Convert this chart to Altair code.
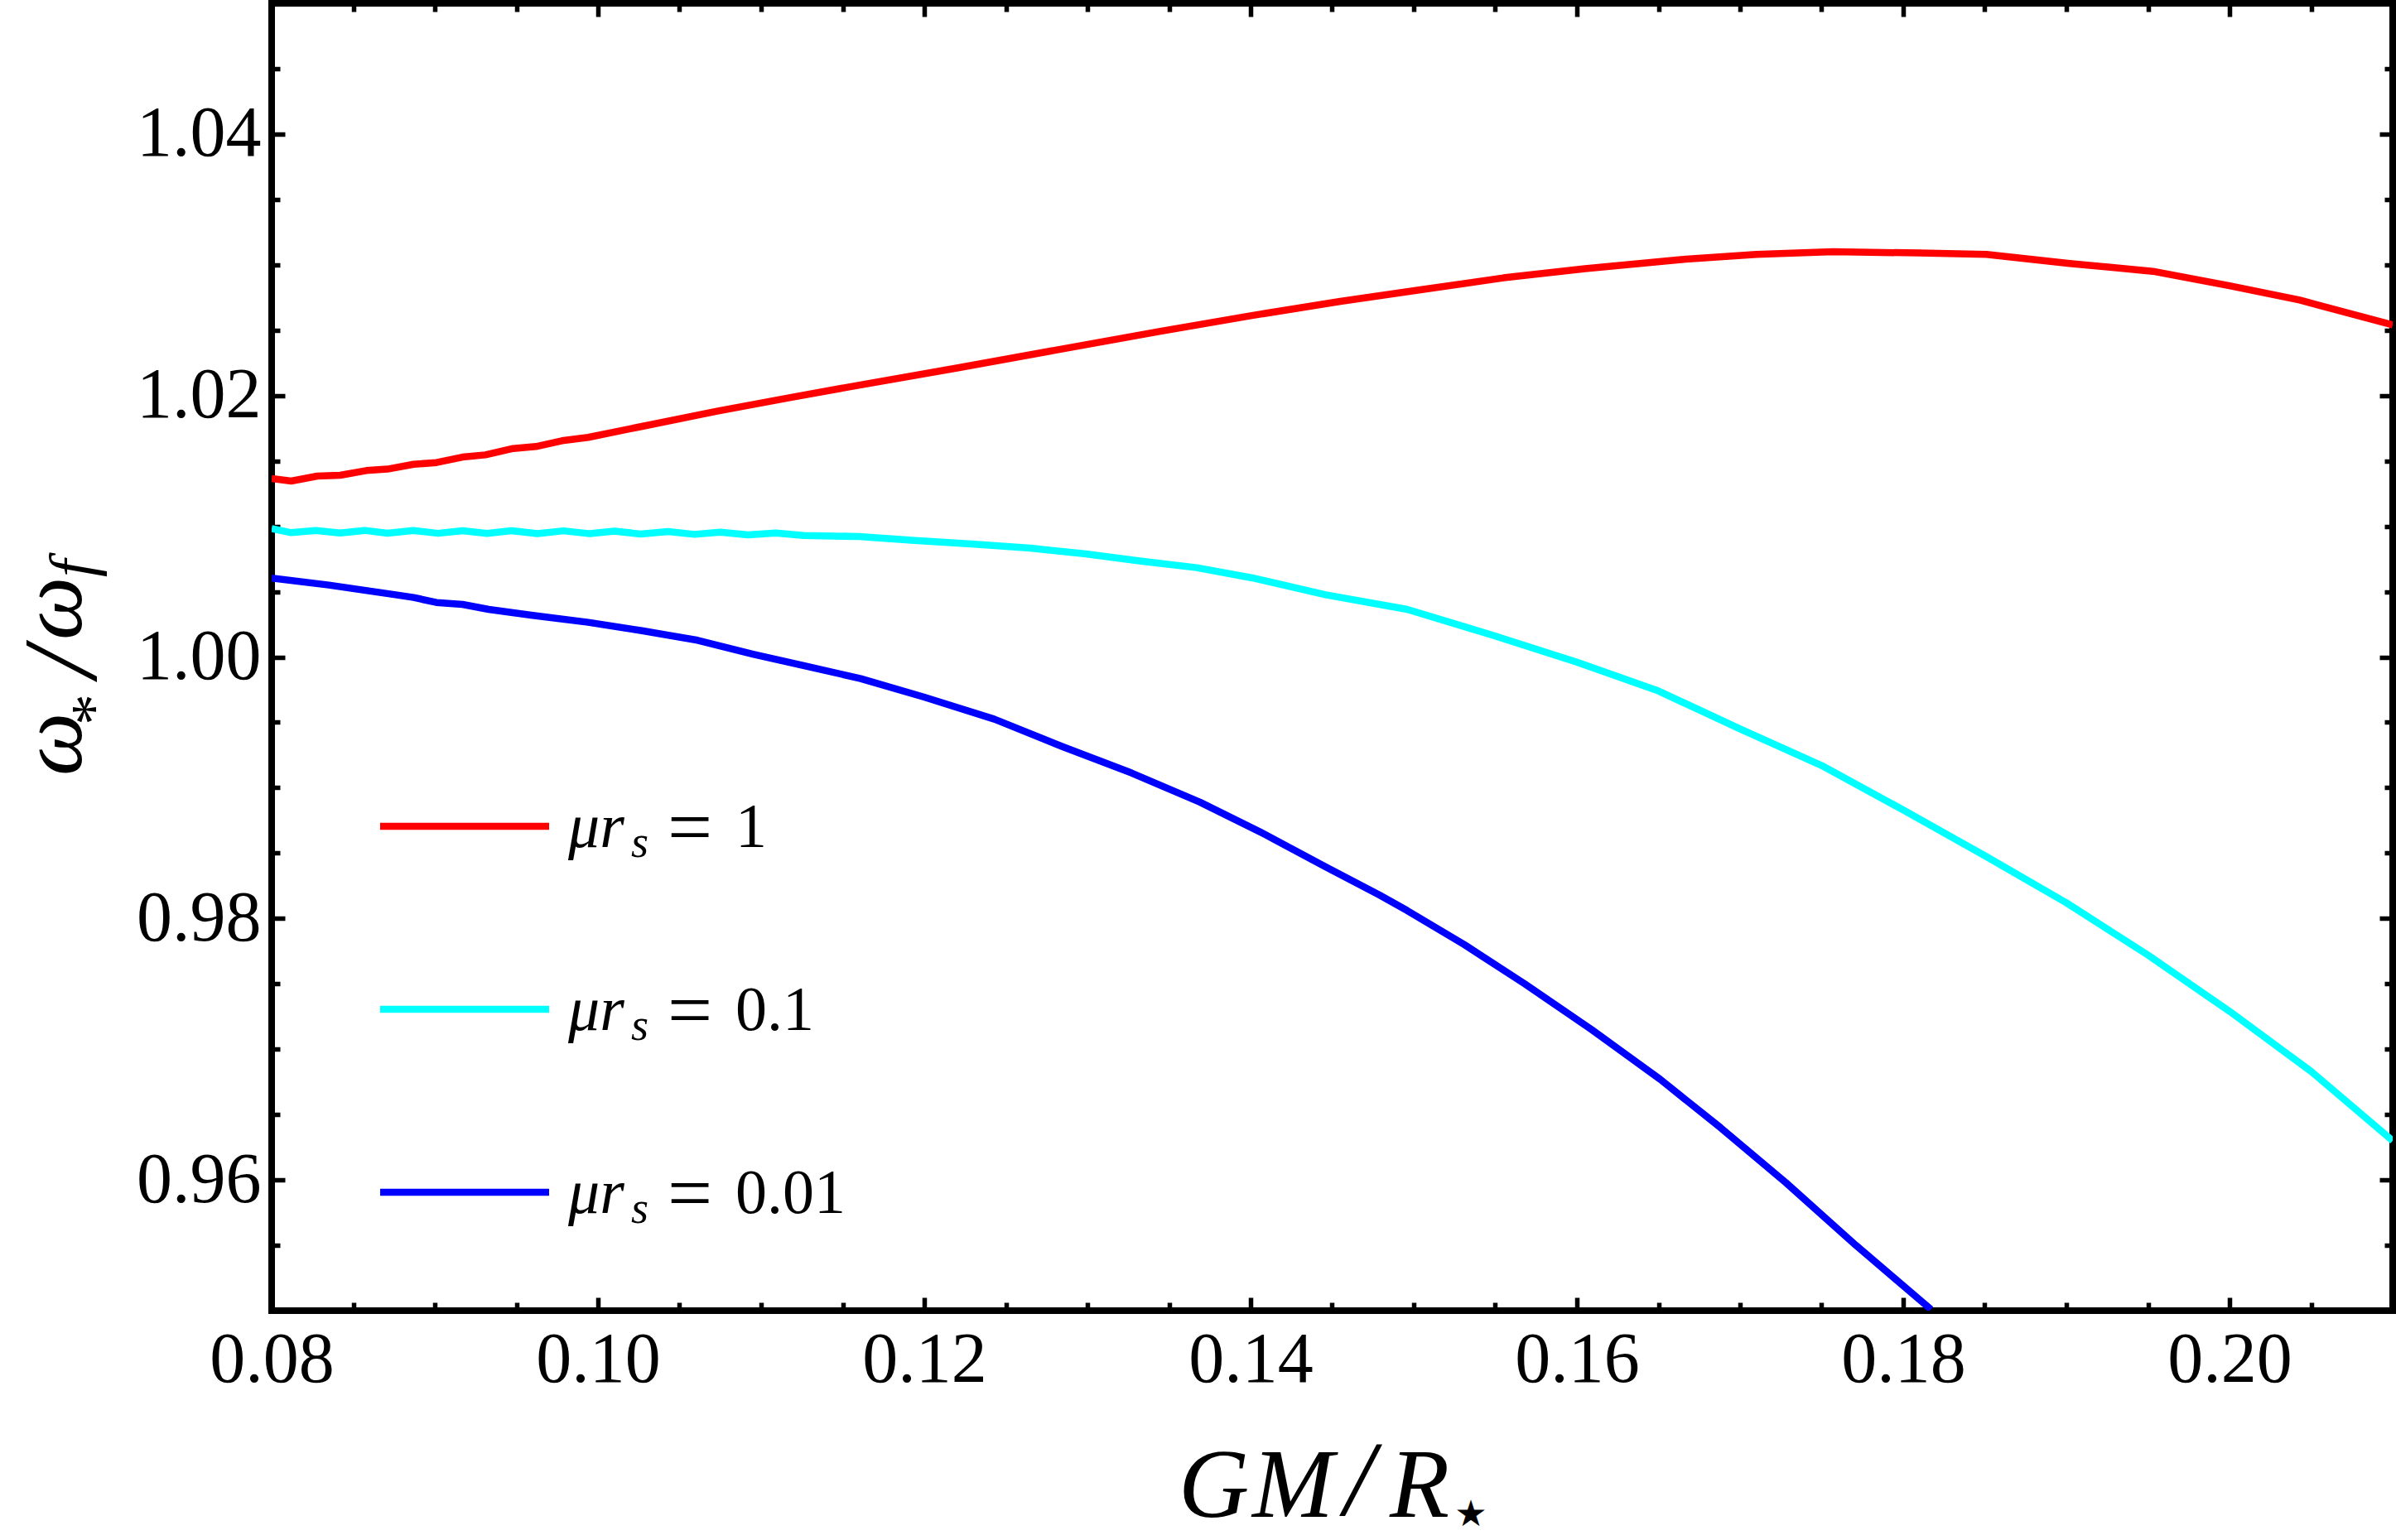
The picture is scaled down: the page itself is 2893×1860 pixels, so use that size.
import altair as alt
import pandas as pd

# ---- data: omega_*/omega_f versus compactness GM/R_* for three values of mu r_s ----
series_names = ["mu_rs_1", "mu_rs_0.1", "mu_rs_0.01"]
series_labels = ["1", "0.1", "0.01"]
series_colors = ["#ff0000", "#00ffff", "#0000ff"]

gm_red = [0.0800, 0.0812, 0.0828, 0.0842, 0.0858, 0.0871, 0.0887, 0.0901, 0.0917,
          0.0931, 0.0948, 0.0962, 0.0978, 0.0994, 0.1027, 0.1073, 0.1118, 0.1156,
          0.1220, 0.1282, 0.1344, 0.1400, 0.1455, 0.1505, 0.1555, 0.1605, 0.1664,
          0.1710, 0.1757, 0.1810, 0.1851, 0.1902, 0.1953, 0.2000, 0.2043, 0.2100]
ratio_red = [1.01365, 1.01346, 1.01384, 1.01390, 1.01426, 1.01437, 1.01474, 1.01487,
             1.01529, 1.01546, 1.01595, 1.01610, 1.01654, 1.01680, 1.01764, 1.01880,
             1.01985, 1.02070, 1.02210, 1.02350, 1.02490, 1.02610, 1.02720, 1.02810,
             1.02900, 1.02970, 1.03040, 1.03080, 1.03100, 1.03090, 1.03080, 1.03010,
             1.02950, 1.02840, 1.02730, 1.02540]

gm_cyan = [0.0800, 0.0812, 0.0827, 0.0842, 0.0857, 0.0871, 0.0887, 0.0902, 0.0917,
           0.0932, 0.0947, 0.0963, 0.0979, 0.0995, 0.1010, 0.1026, 0.1043, 0.1059,
           0.1075, 0.1092, 0.1109, 0.1126, 0.1160, 0.1194, 0.1229, 0.1265, 0.1299,
           0.1333, 0.1367, 0.1401, 0.1446, 0.1496, 0.1550, 0.1600, 0.1650, 0.1700,
           0.1750, 0.1800, 0.1850, 0.1900, 0.1950, 0.2000, 0.2050, 0.2100]
ratio_cyan = [1.00983, 1.00951, 1.00968, 1.00948, 1.00968, 1.00947, 1.00967, 1.00946,
              1.00966, 1.00945, 1.00966, 1.00944, 1.00965, 1.00943, 1.00963, 1.00941,
              1.00960, 1.00938, 1.00955, 1.00934, 1.00948, 1.00930, 1.00921, 1.00892,
              1.00864, 1.00833, 1.00788, 1.00733, 1.00683, 1.00605, 1.00476, 1.00364,
              1.00160, 0.99960, 0.99740, 0.99450, 0.99170, 0.98830, 0.98480, 0.98120,
              0.97720, 0.97290, 0.96830, 0.96300]

gm_blue = [0.0800, 0.0835, 0.0876, 0.0887, 0.0901, 0.0917, 0.0933, 0.0960, 0.0994,
           0.1027, 0.1061, 0.1095, 0.1126, 0.1161, 0.1200, 0.1243, 0.1285, 0.1327,
           0.1369, 0.1408, 0.1446, 0.1479, 0.1496, 0.1531, 0.1568, 0.1609, 0.1651,
           0.1688, 0.1728, 0.1771, 0.1817]
ratio_blue = [1.00603, 1.00550, 1.00476, 1.00455, 1.00417, 1.00402, 1.00364, 1.00318,
              1.00265, 1.00201, 1.00128, 1.00022, 0.99934, 0.99835, 0.99693, 0.99524,
              0.99313, 0.99113, 0.98889, 0.98648, 0.98394, 0.98179, 0.98060, 0.97800,
              0.97500, 0.97150, 0.96770, 0.96400, 0.95980, 0.95500, 0.95010]

x_major = [0.08, 0.10, 0.12, 0.14, 0.16, 0.18, 0.20]
x_minor = [0.085, 0.09, 0.095, 0.105, 0.11, 0.115, 0.125, 0.13, 0.135, 0.145, 0.15,
           0.155, 0.165, 0.17, 0.175, 0.185, 0.19, 0.195, 0.205]
y_major = [0.96, 0.98, 1.00, 1.02, 1.04]
y_minor = [0.955, 0.965, 0.97, 0.975, 0.985, 0.99, 0.995, 1.005, 1.01, 1.015, 1.025,
           1.03, 1.035, 1.045]

# ---- long table for the curves ----
frames = []
for name, xs, ys in [(series_names[0], gm_red, ratio_red),
                     (series_names[1], gm_cyan, ratio_cyan),
                     (series_names[2], gm_blue, ratio_blue)]:
    frames.append(pd.DataFrame({"gm": xs, "ratio": ys, "series": name,
                                "order": range(len(xs))}))
df = pd.concat(frames, ignore_index=True)

# ---- layout ----
W, H = 2561, 1579
SERIF = "Liberation Serif"
TICK_FS = 86
LINE_W = 8.5
FRAME_W = 8
MAJOR_LEN, MINOR_LEN, TICK_W = 16, 10, 5.5

xscale = alt.Scale(domain=[0.08, 0.21], nice=False, zero=False)
yscale = alt.Scale(domain=[0.95, 1.05], nice=False, zero=False)


def tick_axis(orient, values, size, offset):
    return alt.Axis(orient=orient, values=values, offset=offset, labels=False,
                    domain=False, grid=False, ticks=True, tickSize=size,
                    tickWidth=TICK_W, tickColor="black", tickCap="butt", title=None)


x_labels = alt.Axis(orient="bottom", values=x_major, format=".2f", ticks=False,
                    tickSize=0, domain=False, grid=False, labelFont=SERIF,
                    labelFontSize=TICK_FS, labelColor="black", labelPadding=17,
                    labelFlush=False, labelOverlap=False, title=None)
y_labels = alt.Axis(orient="left", values=y_major, format=".2f", ticks=False,
                    tickSize=0, domain=False, grid=False, labelFont=SERIF,
                    labelFontSize=TICK_FS, labelColor="black", labelPadding=13,
                    labelOverlap=False, title=None)

curves = alt.Chart(df).mark_line(strokeWidth=LINE_W, clip=True, strokeJoin="round").encode(
    x=alt.X("gm:Q", scale=xscale, axis=x_labels),
    y=alt.Y("ratio:Q", scale=yscale, axis=y_labels),
    color=alt.Color("series:N", scale=alt.Scale(domain=series_names, range=series_colors),
                    legend=None),
    order="order:Q",
)


def tick_layer(xaxis, yaxis):
    return alt.Chart(df).mark_point(opacity=0).encode(
        x=alt.X("gm:Q", scale=xscale, axis=xaxis),
        y=alt.Y("ratio:Q", scale=yscale, axis=yaxis),
    )


# inward-pointing major/minor ticks on all four sides of the frame
ticks = [
    tick_layer(tick_axis("top", x_major, MAJOR_LEN, -H), tick_axis("right", y_major, MAJOR_LEN, -W)),
    tick_layer(tick_axis("top", x_minor, MINOR_LEN, -H), tick_axis("right", y_minor, MINOR_LEN, -W)),
    tick_layer(tick_axis("bottom", x_major, MAJOR_LEN, -H), tick_axis("left", y_major, MAJOR_LEN, -W)),
    tick_layer(tick_axis("bottom", x_minor, MINOR_LEN, -H), tick_axis("left", y_minor, MINOR_LEN, -W)),
]

one = pd.DataFrame({"k": [0]})


def glyph(text, px, py, size, style="italic", angle=0, align="left",
          baseline="alphabetic", font=SERIF):
    return alt.Chart(one).mark_text(
        text=text, font=font, fontSize=size, fontStyle=style, angle=angle,
        align=align, baseline=baseline, color="black",
    ).encode(x=alt.value(px), y=alt.value(py))


# y-axis title  omega_* / omega_f  (rotated, read bottom to top)
y_title = [
    glyph("ω", -230, 933, 108, angle=270),
    glyph("*", -190, 872, 76, style="normal", angle=270),
    glyph("/", -212, 814, 128, angle=270),
    glyph("ω", -230, 769, 108, angle=270),
    glyph("f", -215, 693, 76, angle=270),
]

# x-axis title  GM / R_star
x_title = [
    glyph("G", 1095, 1828, 118),
    glyph("M", 1184, 1828, 118),
    glyph("/", 1295, 1826, 130),
    glyph("R", 1350, 1828, 118),
    glyph("★", 1448, 1826, 44, style="normal", align="center", baseline="middle",
          font="DejaVu Sans"),
]

# legend: swatch + "mu r_s = value"
legend = []
for i, (lab, col) in enumerate(zip(series_labels, series_colors)):
    row = 994 + i * 221
    legend.append(
        alt.Chart(one).mark_rule(color=col, strokeWidth=LINE_W, strokeCap="butt").encode(
            x=alt.value(131), x2=alt.value(335), y=alt.value(row))
    )
    legend.append(glyph("μr", 358, row + 25, 76))
    legend.append(glyph("s", 434, row + 37, 54))
    legend.append(glyph("=", 478, row + 33, 96, style="normal"))
    legend.append(glyph(lab, 560, row + 25, 76, style="normal"))

chart = alt.layer(curves, *ticks, *y_title, *x_title, *legend).resolve_axis(
    x="independent", y="independent"
).properties(
    width=W, height=H,
    autosize=alt.AutoSizeParams(type="none"),
    padding={"left": 328, "top": 4, "right": 4, "bottom": 277},
    background="white",
).configure_view(stroke="black", strokeWidth=FRAME_W)

chart.save("out.html", embed_options={"renderer": "svg", "actions": False})
